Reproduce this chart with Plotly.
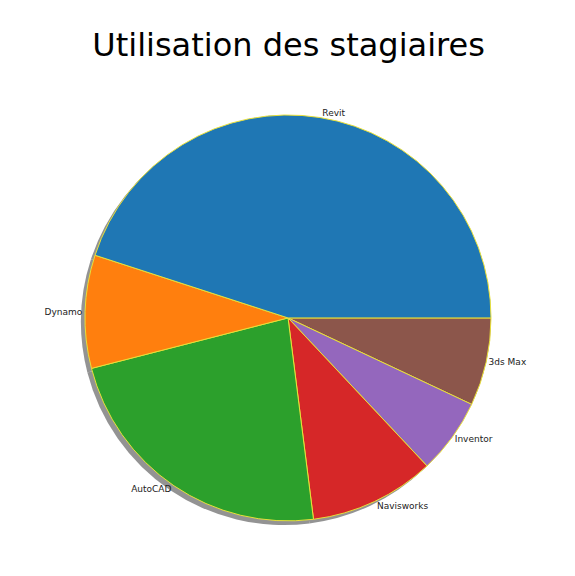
import plotly.graph_objects as go

logiciels = ["Revit", "Dynamo", "AutoCAD", "Navisworks", "Inventor", "3ds Max"]
stagiaires = [45, 9, 23, 10, 6, 7]
couleurs = ["#1f77b4", "#ff7f0e", "#2ca02c", "#d62728", "#9467bd", "#8c564b"]

# ordre inversé + sens horaire depuis 3 h = sens trigo depuis 3 h (comme matplotlib)
labels = logiciels[::-1]
values = stagiaires[::-1]
colors = couleurs[::-1]

fig = go.Figure()

# ombre (décalée en bas à gauche)
fig.add_trace(go.Pie(
    labels=labels,
    values=values,
    sort=False,
    direction="clockwise",
    rotation=90,
    marker=dict(colors=["#939393"] * len(labels), line=dict(width=0)),
    textinfo="none",
    hoverinfo="skip",
    showlegend=False,
    domain=dict(x=[0, 0.99], y=[0, 0.99]),
))

# camembert principal
fig.add_trace(go.Pie(
    labels=labels,
    values=values,
    sort=False,
    direction="clockwise",
    rotation=90,
    marker=dict(colors=colors, line=dict(color="#e8e03a", width=1)),
    textinfo="label",
    textposition="outside",
    outsidetextfont=dict(size=9, color="#222222"),
    showlegend=False,
    domain=dict(x=[0.01, 1], y=[0.01, 1]),
))

fig.update_layout(
    title=dict(text="Utilisation des stagiaires", x=0.488, xanchor="center",
               y=0.936, yanchor="middle",
               font=dict(family="DejaVu Sans", size=32, color="black")),
    font=dict(family="DejaVu Sans"),
    width=575,
    height=576,
    margin=dict(l=73, r=92, t=107, b=59),
    paper_bgcolor="white",
    plot_bgcolor="white",
)

fig.write_html("out.html")
